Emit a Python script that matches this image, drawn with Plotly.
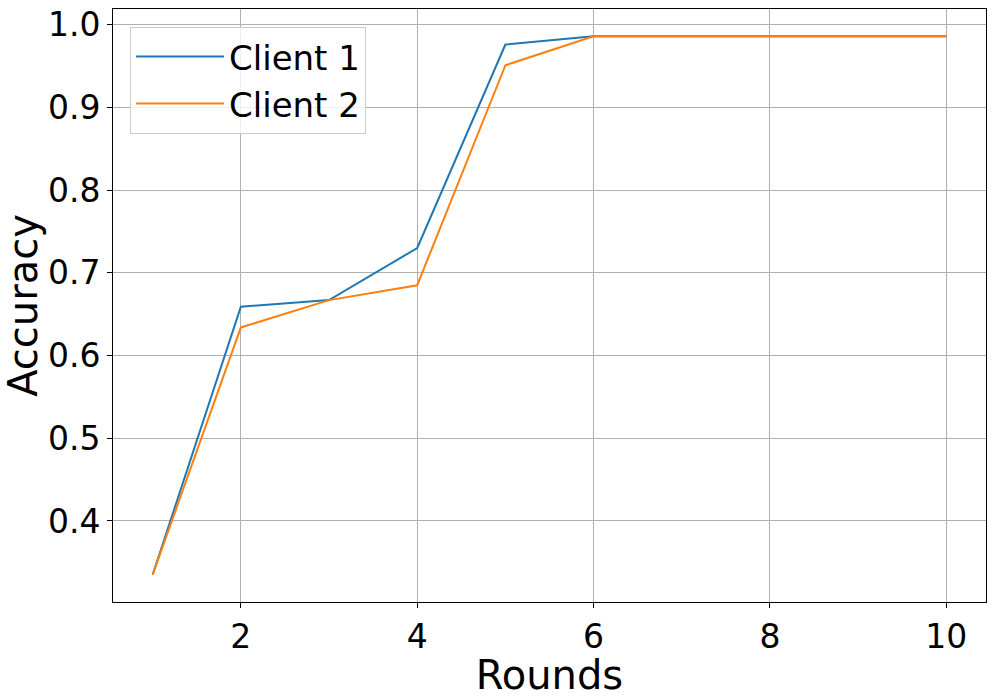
import plotly.graph_objects as go

rounds = [1, 2, 3, 4, 5, 6, 7, 8, 9, 10]
client1 = [0.335, 0.659, 0.667, 0.730, 0.976, 0.986, 0.986, 0.986, 0.986, 0.986]
client2 = [0.335, 0.634, 0.667, 0.685, 0.951, 0.986, 0.986, 0.986, 0.986, 0.986]

fig = go.Figure()
fig.add_trace(go.Scatter(x=rounds, y=client1, mode='lines', name='Client 1',
                         line=dict(color='#1f77b4', width=2)))
fig.add_trace(go.Scatter(x=rounds, y=client2, mode='lines', name='Client 2',
                         line=dict(color='#ff7f0e', width=2)))

axis_style = dict(showline=True, linecolor='black', linewidth=1, mirror=True,
                  ticks='outside', ticklen=5, tickcolor='black',
                  showgrid=True, gridcolor='#b0b0b0', gridwidth=1,
                  zeroline=False, automargin=False,
                  tickfont=dict(size=33, color='black'))

fig.update_xaxes(range=[0.55, 10.45], tickvals=[2, 4, 6, 8, 10],
                 title=dict(text='Rounds', font=dict(size=40, color='black'), standoff=0),
                 **axis_style)
fig.update_yaxes(range=[0.302, 1.019], tickvals=[0.4, 0.5, 0.6, 0.7, 0.8, 0.9, 1.0],
                 tickformat='.1f',
                 title=dict(text='Accuracy', font=dict(size=40, color='black'), standoff=8),
                 **axis_style)

fig.update_layout(
    width=996, height=698,
    margin=dict(l=113, r=10, t=9, b=96),
    plot_bgcolor='white', paper_bgcolor='white',
    font=dict(family='DejaVu Sans', color='black'),
    legend=dict(x=0.0195, y=0.97, xanchor='left', yanchor='top',
                font=dict(size=34, color='black'), itemwidth=88,
                bgcolor='rgba(255,255,255,0.8)', bordercolor='#cccccc', borderwidth=1),
)

# drop the default page margin so the figure fills the window
fig.write_html("out.html", config={'displayModeBar': False},
               post_script="document.body.style.margin='0';")
